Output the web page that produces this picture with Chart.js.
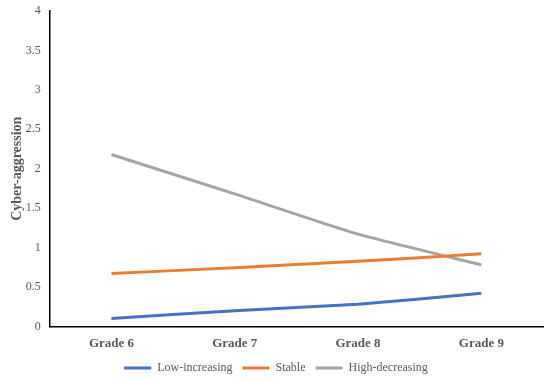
<!DOCTYPE html>
<html>
<head>
<meta charset="utf-8">
<script src="https://cdn.jsdelivr.net/npm/chart.js@4"></script>
<style>
  html, body { margin: 0; padding: 0; background: #fff; }
  #wrap { width: 550px; height: 380px; }
</style>
</head>
<body>
<div id="wrap"><canvas id="grafico"></canvas></div>
<script>
// categorias y series
const grados = ["Grade 6", "Grade 7", "Grade 8", "Grade 9"];
const lowIncreasing = [0.1, 0.2, 0.28, 0.42];
const stable = [0.67, 0.745, 0.825, 0.92];
const highDecreasing = [2.18, 1.68, 1.17, 0.78];
const yTicks = [0, 0.5, 1, 1.5, 2, 2.5, 3, 3.5, 4];

const fuente = "'Liberation Serif', 'Times New Roman', serif";

function serie(label, data, color) {
  return {
    label: label,
    data: data,
    borderColor: color,
    backgroundColor: color,
    borderWidth: 3,
    pointRadius: 0,
    pointStyle: "line",
    tension: 0.15,
    fill: false,
  };
}

const ctx = document.getElementById("grafico").getContext("2d");

new Chart(ctx, {
  type: "line",
  data: {
    labels: grados,
    datasets: [
      serie("Low-increasing", lowIncreasing, "#4472C4"),
      serie("Stable", stable, "#ED7D31"),
      serie("High-decreasing", highDecreasing, "#A5A5A5"),
    ],
  },
  options: {
    responsive: true,
    maintainAspectRatio: false,
    animation: false,
    layout: {
      padding: { top: 0, right: 7, bottom: -4, left: 9 },
    },
    plugins: {
      legend: {
        display: true,
        position: "bottom",
        labels: {
          usePointStyle: true,
          pointStyle: "line",
          pointStyleWidth: 27,
          boxHeight: 3,
          padding: 10,
          color: "#595959",
          font: { size: 12, family: fuente },
        },
      },
      tooltip: { enabled: false },
    },
    scales: {
      x: {
        offset: true,
        afterFit: (axis) => {
          axis.height -= 8;
        },
        grid: {
          display: false,
          drawTicks: false,
        },
        border: { display: true, color: "#000", width: 1.5 },
        ticks: {
          padding: 9,
          color: "#595959",
          font: { size: 13, weight: "bold", family: fuente },
        },
      },
      y: {
        min: 0,
        max: 4,
        afterBuildTicks: (axis) => {
          axis.ticks = yTicks.map((v) => ({ value: v }));
        },
        afterFit: (axis) => {
          axis.width -= 13;
          axis.paddingTop = 11;
        },
        grid: {
          display: false,
          drawTicks: false,
        },
        border: { display: true, color: "#000", width: 1.5 },
        title: {
          display: true,
          text: "Cyber-aggression",
          color: "#595959",
          padding: { top: 0, bottom: 4 },
          font: { size: 14, weight: "bold", family: fuente },
        },
        ticks: {
          padding: 9,
          color: "#595959",
          font: { size: 12, family: fuente },
          callback: (v) => String(v),
        },
      },
    },
  },
});
</script>
</body>
</html>
